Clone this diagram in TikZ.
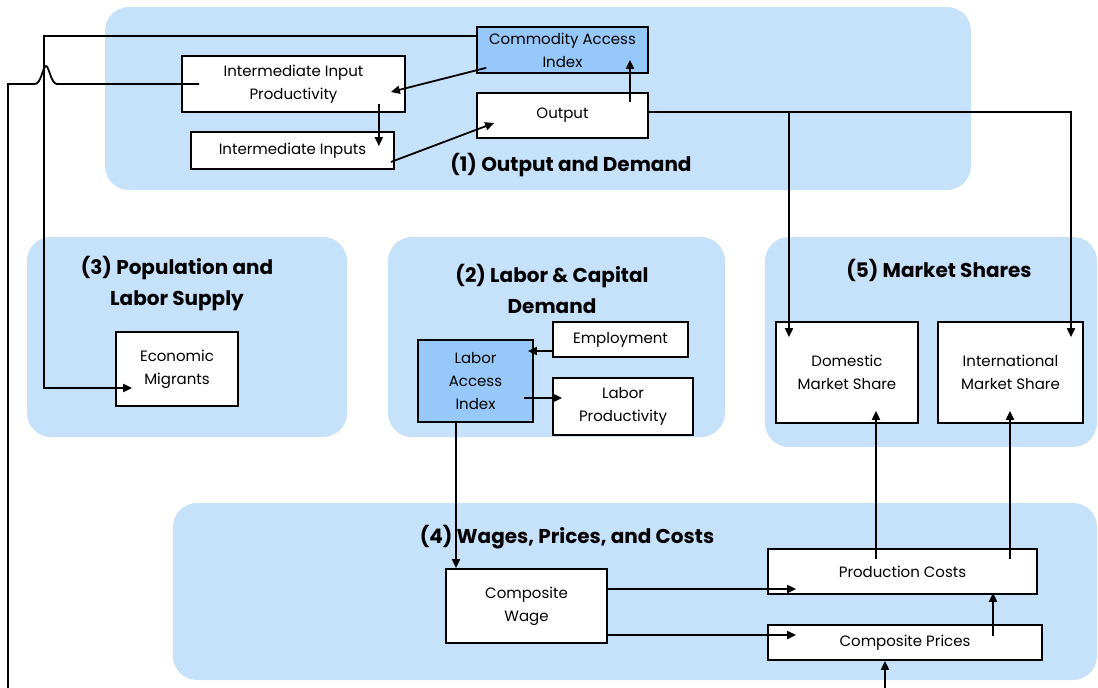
\documentclass[tikz,border=0pt]{standalone}
\usepackage{fontspec}
\setmainfont{Poppins}
\usetikzlibrary{arrows.meta,calc}
\definecolor{panelblue}{RGB}{198,225,250}
\definecolor{boxblue}{RGB}{150,200,250}
\begin{document}
\begin{tikzpicture}[x=1pt,y=-1pt,
  panel/.style={fill=panelblue, rounded corners=24pt},
  box/.style={draw=black, line width=1.7pt, fill=white, align=center,
    font=\fontsize{15}{23}\selectfont, inner sep=0pt},
  bluebox/.style={box, fill=boxblue},
  ttl/.style={font=\fontsize{20}{31}\selectfont\bfseries, align=center},
  conn/.style={line width=1.8pt},
  arr/.style={conn, -{Triangle[length=9pt,width=8pt]}},
]
\useasboundingbox (0,0) rectangle (1098,688);
\clip (0,0) rectangle (1098,688);

% panels
\fill[panel] (105,7) rectangle (971,190);
\fill[panel] (27,237) rectangle (347,437);
\fill[panel] (388,237) rectangle (725,437);
\fill[panel] (765,237) rectangle (1097,447);
\fill[panel] (173,503) rectangle (1097,680);

% titles
\node[ttl] (t1) at (571,165) {(1) Output and Demand};
\node[ttl] (t2) at (552,289) {(2) Labor \& Capital\\Demand};
\node[ttl] (t3) at (177,284) {(3) Population and\\Labor Supply};
\node[ttl] (t5) at (939,270) {(5) Market Shares};
\node[ttl] (t4) at (567,537) {(4) Wages, Prices, and Costs};

% boxes
\node[bluebox, minimum width=171pt, minimum height=46pt] (cai) at (562.5,50) {Commodity Access\\Index};
\node[box, minimum width=223pt, minimum height=56pt] (iip) at (293.5,84) {Intermediate Input\\Productivity};
\node[box, minimum width=171pt, minimum height=45pt] (out) at (562.5,115.5) {Output};
\node[box, minimum width=203pt, minimum height=37pt] (ii) at (292.5,150.5) {Intermediate Inputs};
\node[box, minimum width=122pt, minimum height=74pt] (em) at (177,369) {Economic\\Migrants};
\node[bluebox, minimum width=115pt, minimum height=82pt] (lai) at (475.5,381) {Labor\\Access\\Index};
\node[box, minimum width=135pt, minimum height=35pt] (emp) at (620.5,339.5) {Employment};
\node[box, minimum width=140pt, minimum height=57pt] (lp) at (623,406.5) {Labor\\Productivity};
\node[box, minimum width=142pt, minimum height=101pt] (dms) at (847,372.5) {Domestic\\Market Share};
\node[box, minimum width=145pt, minimum height=101pt] (ims) at (1010.5,372.5) {International\\Market Share};
\node[box, minimum width=161pt, minimum height=74pt] (cw) at (526.5,606) {Composite\\Wage};
\node[box, minimum width=269pt, minimum height=45pt] (pc) at (902.5,571.5) {Production Costs};
\node[box, minimum width=274pt, minimum height=35pt] (cp) at (905,642.5) {Composite Prices};

% connectors
\draw[arr] ([xshift=67.5pt,yshift=-10pt]out.north) -- ([xshift=67.5pt,yshift=14pt]cai.south);
\draw[arr] ([xshift=10pt,yshift=6pt]cai.south west) -- ([xshift=-15pt,yshift=-8pt]iip.east);
\draw[arr] ([xshift=-27pt,yshift=9pt]iip.south east) -- ([xshift=-16pt,yshift=-15pt]ii.north east);
\draw[arr] ([xshift=-4pt,yshift=-11.5pt]ii.east) -- ([xshift=18pt,yshift=-7.5pt]out.west);
\draw[arr] ([yshift=14pt]cai.west) -| ([xshift=-71pt,yshift=-19pt]em.west) -- ([xshift=17pt,yshift=-19pt]em.west);
\draw[arr] ([xshift=18pt]iip.west) -- (57,84)
   .. controls (51,84) and (49,66) .. (46,66)
   .. controls (43,66) and (41,84) .. (35,84)
   -- (8,84) -- (8,720) -| ([xshift=-20pt]cp.south);
\draw[arr] ([xshift=-19.5pt]lai.south) -- ([xshift=-70.5pt]cw.north);
\draw[arr] ([yshift=-11.5pt]emp.west) -- ([xshift=-6pt,yshift=30pt]lai.east);
\draw[arr] ([xshift=-10pt,yshift=-17pt]lai.east) -- ([xshift=10pt,yshift=8.5pt]lp.west);
\draw[arr] ([yshift=3.5pt]out.east) -| ([xshift=-58pt,yshift=-16pt]dms.north);
\draw[arr] ([yshift=3.5pt]out.east) -| ([xshift=60.5pt,yshift=-16pt]ims.north);
\draw[arr] ([xshift=-26.5pt,yshift=-11pt]pc.north) -- ([xshift=29pt,yshift=13pt]dms.south);
\draw[arr] ([xshift=107.5pt,yshift=-11pt]pc.north) -- ([xshift=-0.5pt,yshift=13pt]ims.south);
\draw[arr] ([yshift=17pt]cw.east) -- ([xshift=29pt,yshift=-17.5pt]pc.west);
\draw[arr] ([yshift=-29pt]cw.east) -- ([xshift=29pt,yshift=7.5pt]cp.west);
\draw[arr] ([xshift=88pt,yshift=-12pt]cp.north) -- ([xshift=90.5pt,yshift=2pt]pc.south);
\end{tikzpicture}
\end{document}
